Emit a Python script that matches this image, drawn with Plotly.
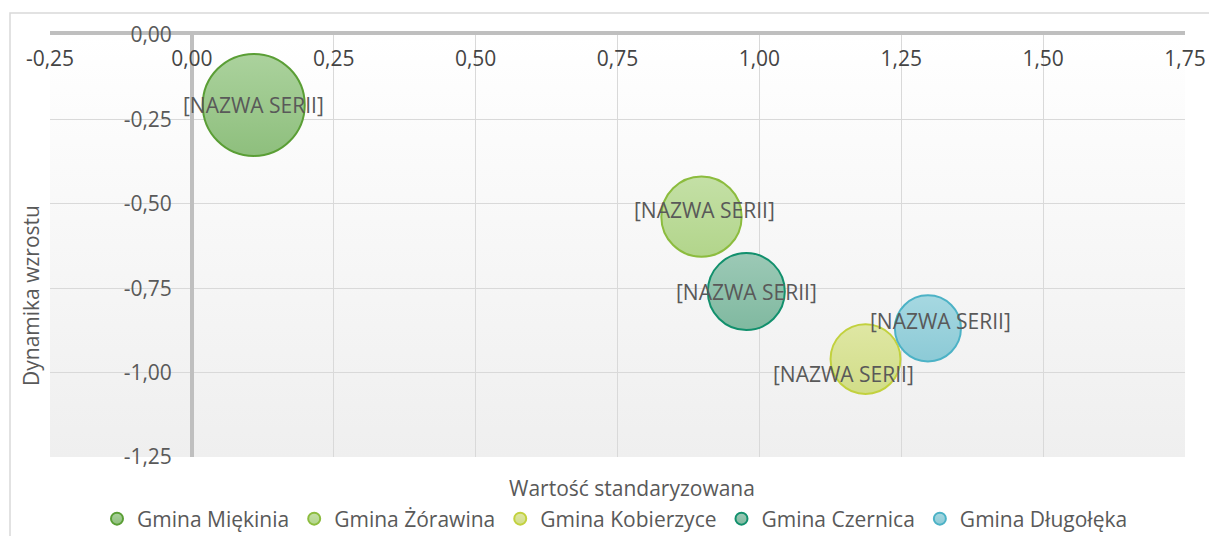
import plotly.graph_objects as go

# dane
gminy = ["Gmina Miękinia", "Gmina Żórawina", "Gmina Kobierzyce", "Gmina Czernica", "Gmina Długołęka"]
wartosc_std = [0.109, 0.898, 1.187, 0.977, 1.297]
dynamika = [-0.207, -0.538, -0.960, -0.760, -0.869]
rozmiar = [100, 62, 47, 57, 42]
etykieta = "[NAZWA SERII]"

x_ticks = [-0.25, 0, 0.25, 0.5, 0.75, 1.0, 1.25, 1.5, 1.75]
y_ticks = [0, -0.25, -0.5, -0.75, -1.0, -1.25]

# kolory: wypełnienie (góra, dół) i obrys
fill_top = ["#abd29d", "#c4e0a6", "#dfe7a4", "#9cc9b6", "#a6d8e1"]
fill_bottom = ["#8ebf7d", "#b2d58b", "#d1dd88", "#80b9a0", "#8ccad6"]
edge = ["#5a9e35", "#8cbc3e", "#c2d13e", "#12906d", "#4cb2c6"]

W, H = 1209, 536
PL, PT, PR, PB = 50, 35, 1185, 457  # obszar wykresu w pikselach
pw = PR - PL
ph = PB - PT
M = dict(l=PL, r=W - PR, t=PT, b=H - PB, autoexpand=False)
x_range = [x_ticks[0], x_ticks[-1]]
y_range = [y_ticks[-1], y_ticks[0]]
FS = 21

def fmt(v):
    return f"{v:.2f}".replace(".", ",")

def px_x(x):
    return (x - PL) / pw

def px_y(y):
    return (PB - y) / ph

label_shift = [(0, 0), (3, 7), (-22, -15), (0, 0), (13, 7)]

fig = go.Figure()
max_d = 102
sizeref = 2.0 * max(rozmiar) / (max_d ** 2)
for i, name in enumerate(gminy):
    # gradient pionowy: marker.color na górze, gradient.color na dole
    fig.add_trace(go.Scatter(
        x=[wartosc_std[i]], y=[dynamika[i]], name=name, mode="markers",
        marker=dict(size=[rozmiar[i]], sizemode="area", sizeref=sizeref,
                    color=fill_top[i],
                    gradient=dict(type="vertical", color=fill_bottom[i]),
                    line=dict(color=edge[i], width=2), opacity=1),
        hoverinfo="skip",
    ))

for i in range(len(gminy)):
    dx, dy = label_shift[i]
    fig.add_annotation(x=wartosc_std[i], y=dynamika[i], text=etykieta, showarrow=False,
                       xshift=dx, yshift=dy, font=dict(size=FS, color="#595959"))

# tło obszaru wykresu z gradientem
svg = ("data:image/svg+xml;utf8,<svg xmlns='http://www.w3.org/2000/svg' width='100' height='100' "
       "preserveAspectRatio='none'><defs><linearGradient id='g' x1='0' y1='0' x2='0' y2='1'>"
       "<stop offset='0' stop-color='%23ffffff'/><stop offset='1' stop-color='%23efefef'/>"
       "</linearGradient></defs><rect width='100' height='100' fill='url(%23g)'/></svg>")
fig.add_layout_image(source=svg, xref="paper", yref="paper", x=0, y=1, sizex=1, sizey=1,
                     sizing="stretch", layer="below", xanchor="left", yanchor="top")

# ramka wykresu
fig.add_shape(type="rect", xref="paper", yref="paper",
              x0=px_x(10), x1=px_x(W + 20), y0=px_y(H + 20), y1=px_y(13),
              line=dict(color="#d9d9d9", width=1.5), layer="below")

fig.add_annotation(text="Wartość standaryzowana", xref="paper", yref="paper",
                   x=px_x(632), y=px_y(488), xanchor="center", yanchor="middle",
                   showarrow=False, font=dict(size=FS, color="#595959"))
fig.add_annotation(text="Dynamika wzrostu", xref="paper", yref="paper", textangle=-90,
                   x=px_x(31), y=px_y(296), xanchor="center", yanchor="middle",
                   showarrow=False, font=dict(size=FS, color="#595959"))

fig.update_layout(
    width=W, height=H, margin=M,
    paper_bgcolor="white", plot_bgcolor="rgba(0,0,0,0)",
    font=dict(family="Open Sans", size=FS, color="#595959"),
    showlegend=True,
    legend=dict(orientation="h", x=px_x(615), xanchor="center", y=px_y(519),
                yanchor="middle", itemsizing="constant", font=dict(size=FS),
                itemwidth=30, tracegroupgap=0),
    xaxis=dict(range=x_range, side="top", tickvals=x_ticks, ticktext=[fmt(v) for v in x_ticks],
               ticklabelposition="inside", ticklabeloverflow="allow", ticks="",
               showgrid=True, gridcolor="#d9d9d9",
               gridwidth=1, showline=True, linecolor="#bfbfbf", linewidth=4,
               zeroline=True, zerolinecolor="#bfbfbf", zerolinewidth=4,
               ticklabelstandoff=18),
    yaxis=dict(range=y_range, tickvals=y_ticks, ticktext=[fmt(v) for v in y_ticks],
               anchor="free", position=(0 - x_range[0]) / (x_range[1] - x_range[0]),
               ticks="", showgrid=True, gridcolor="#d9d9d9", gridwidth=1,
               ticklabeloverflow="allow",
               showline=False, zeroline=False, ticklabelstandoff=20),
)

# bez domyślnego marginesu strony, żeby wykres wypełniał całe okno
fig.write_html("out.html", config={"displayModeBar": False},
               post_script="document.body.style.margin='0';document.body.style.overflow='hidden';")
